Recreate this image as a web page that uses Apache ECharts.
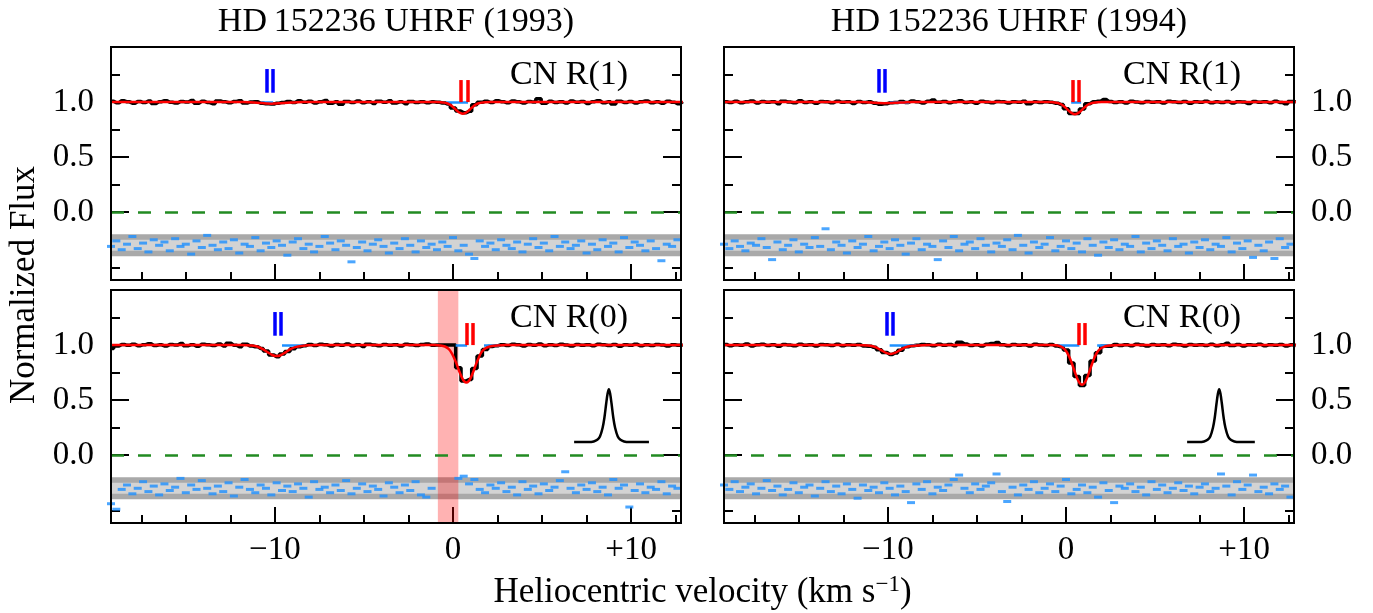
<!DOCTYPE html>
<html>
<head>
<meta charset="utf-8">
<script src="https://cdn.jsdelivr.net/npm/echarts@6/dist/echarts.min.js"></script>
<style>
  html, body { margin: 0; padding: 0; background: #ffffff; }
  #chart { width: 1373px; height: 613px; }
</style>
</head>
<body>
<div id="chart"></div>
<script>
// ---------------------------------------------------------------------------
// Spectral data: HD 152236, UHRF, CN R(1) and R(0) lines, 1993 and 1994
// Velocity sampling of the extracted spectra (km/s, heliocentric)
// ---------------------------------------------------------------------------
const VEL_START = -19.2;
const VEL_STEP = 0.3;
const N_PIX = 108;

// Tick values
const xMajorTicks = [-10, 0, 10];
const xMinorTicks = [-17.5, -15, -12.5, -7.5, -5, -2.5, 2.5, 5, 7.5, 12.5];
const yMajorTicks = [0, 0.5, 1.0];
const yMinorTicks = [-0.5, -0.25, 0.25, 0.75, 1.25];

const panelTitles = ['HD\u2009152236 UHRF (1993)', 'HD\u2009152236 UHRF (1994)'];
const lineNames = ['CN R(1)', 'CN R(1)', 'CN R(0)', 'CN R(0)'];

// Normalized flux, 1993 CN R(1)
const flux1993R1 = [
  1.008, 0.994, 1.012, 1.002, 0.990, 1.006, 0.996, 1.010, 0.988, 1.004,
  1.012, 0.998, 0.992, 1.006, 1.000, 1.014, 0.990, 1.008, 0.996, 0.986,
  1.010, 1.002, 0.994, 1.006, 1.012, 0.992, 1.000, 1.004, 0.990, 0.984,
  0.982, 0.990, 0.997, 1.006, 0.996, 1.012, 0.998, 1.008, 0.992, 1.004,
  1.014, 0.990, 1.002, 0.980, 1.006, 0.996, 1.010, 0.994, 1.004, 0.988,
  1.008, 0.998, 1.012, 0.992, 1.002, 0.986, 1.006, 0.996, 1.004, 0.994,
  1.002, 0.998, 0.992, 0.982, 0.947, 0.918, 0.903, 0.916, 0.976, 0.998,
  1.008, 0.996, 1.012, 1.004, 0.994, 1.010, 1.002, 0.992, 1.006, 1.000,
  1.030, 0.990, 1.008, 0.996, 1.004, 0.992, 1.010, 0.998, 1.006, 0.988,
  1.004, 1.012, 0.994, 1.002, 0.982, 1.008, 0.996, 1.006, 0.992, 1.004,
  1.010, 0.994, 1.002, 0.990, 1.008, 0.998, 0.986, 1.004
];
// Normalized flux, 1994 CN R(1)
const flux1994R1 = [
  1.004, 0.996, 1.008, 0.994, 1.002, 1.010, 0.992, 1.006, 0.998, 1.004,
  0.986, 1.008, 1.000, 0.994, 1.012, 0.996, 1.004, 0.990, 1.006, 1.002,
  0.994, 1.008, 0.998, 1.004, 0.988, 1.006, 0.996, 1.002, 0.990, 0.980,
  0.984, 0.993, 0.996, 1.006, 0.996, 1.010, 1.002, 0.992, 1.008, 1.020,
  0.998, 1.006, 0.994, 1.004, 1.012, 0.996, 1.002, 0.990, 1.008, 1.000,
  0.994, 1.006, 1.002, 0.992, 1.004, 0.998, 1.008, 0.986, 1.002, 0.996,
  1.004, 0.998, 0.990, 0.978, 0.940, 0.896, 0.897, 0.938, 0.985, 1.002,
  1.008, 1.024, 1.006, 0.996, 1.004, 0.992, 1.008, 1.000, 0.994, 1.006,
  0.998, 1.004, 0.992, 1.008, 1.002, 0.996, 1.006, 0.990, 1.004, 0.998,
  1.008, 0.994, 1.002, 0.996, 1.006, 0.992, 1.004, 1.000, 0.988, 1.006,
  0.998, 1.004, 0.994, 1.008, 0.996, 0.984, 1.006, 1.002
];
// Normalized flux, 1993 CN R(0) (pixels near 0 km/s masked to unity)
const flux1993R0 = [
  0.970, 0.992, 1.006, 0.998, 1.008, 0.994, 1.004, 1.012, 0.996, 1.002,
  0.992, 1.006, 1.000, 1.014, 0.994, 1.004, 0.990, 1.008, 1.002, 0.996,
  1.010, 0.992, 1.016, 0.998, 0.986, 1.008, 0.992, 0.985, 0.970, 0.947,
  0.910, 0.894, 0.918, 0.941, 0.966, 0.986, 0.994, 1.006, 0.996, 1.008,
  1.002, 0.992, 1.006, 0.998, 1.010, 0.994, 1.004, 0.988, 1.008, 1.000,
  0.994, 1.006, 0.998, 1.004, 0.992, 1.008, 1.002, 0.996, 1.006, 1.010,
  0.998, 1.000, 1.000, 1.000, 1.000, 0.795, 0.675, 0.687, 0.787, 0.901,
  0.960, 0.988, 0.995, 1.004, 0.996, 1.008, 1.002, 0.992, 1.006, 0.998,
  1.010, 0.994, 1.004, 0.996, 1.008, 1.000, 0.992, 1.006, 0.998, 1.004,
  0.994, 1.008, 1.002, 0.996, 1.006, 0.990, 1.004, 0.998, 1.008, 0.994,
  1.004, 0.996, 1.006, 1.000, 0.992, 1.004, 0.998, 1.002
];
// Normalized flux, 1994 CN R(0)
const flux1994R0 = [
  1.006, 0.994, 1.004, 0.998, 1.010, 0.992, 1.002, 1.008, 0.996, 1.004,
  0.990, 1.006, 1.000, 0.994, 1.008, 0.998, 1.004, 0.992, 1.006, 1.002,
  0.996, 1.008, 0.994, 1.004, 0.998, 1.006, 0.992, 0.990, 0.980, 0.958,
  0.933, 0.915, 0.928, 0.953, 0.984, 0.994, 0.999, 1.006, 1.002, 0.994,
  1.008, 0.998, 1.006, 0.994, 1.026, 1.010, 0.996, 1.004, 0.992, 1.008,
  1.014, 1.024, 1.002, 0.994, 1.006, 0.998, 1.004, 0.992, 1.008, 1.000,
  0.996, 1.006, 0.992, 0.984, 0.955, 0.838, 0.715, 0.634, 0.723, 0.856,
  0.931, 0.990, 0.989, 1.006, 0.996, 1.004, 0.994, 1.008, 1.000, 0.992,
  1.006, 0.998, 1.004, 0.994, 1.008, 1.002, 0.992, 1.006, 0.998, 1.004,
  0.996, 1.008, 0.994, 1.002, 1.016, 0.996, 1.006, 0.992, 1.004, 0.998,
  1.008, 0.994, 1.004, 0.998, 1.006, 0.992, 1.002, 0.996
];

// Fit residuals (scaled, offset to -0.3); null = masked pixel
const resid1993R1 = [
  -0.31, -0.26, -0.34, -0.29, -0.22, -0.33, -0.28, -0.36, -0.25, -0.30,
  -0.27, -0.35, -0.24, -0.31, -0.29, -0.38, -0.26, -0.32, -0.21, -0.30,
  -0.34, -0.27, -0.33, -0.25, -0.37, -0.29, -0.31, -0.23, -0.35, -0.28,
  -0.32, -0.26, -0.30, -0.39, -0.27, -0.24, -0.33, -0.29, -0.36, -0.31,
  -0.22, -0.28, -0.34, -0.26, -0.30, -0.45, -0.32, -0.27, -0.35, -0.29,
  -0.25, -0.31, -0.37, -0.28, -0.33, -0.24, -0.30, -0.36, -0.26, -0.32,
  -0.29, -0.34, -0.27, -0.31, -0.23, -0.35, -0.30, -0.38, -0.42, -0.26,
  -0.31, -0.28, -0.34, -0.25, -0.30, -0.33, -0.27, -0.36, -0.29, -0.24,
  -0.32, -0.28, -0.35, -0.22, -0.31, -0.27, -0.33, -0.30, -0.26, -0.37,
  -0.29, -0.34, -0.25, -0.31, -0.28, -0.36, -0.23, -0.32, -0.27, -0.30,
  -0.35, -0.26, -0.33, -0.44, -0.29, -0.31, -0.25, -0.34
];
const resid1994R1 = [
  -0.29, -0.33, -0.26, -0.31, -0.35, -0.28, -0.30, -0.24, -0.32, -0.43,
  -0.27, -0.34, -0.30, -0.25, -0.36, -0.29, -0.32, -0.23, -0.31, -0.15,
  -0.34, -0.27, -0.30, -0.37, -0.26, -0.32, -0.29, -0.22, -0.35, -0.31,
  -0.27, -0.33, -0.25, -0.30, -0.38, -0.28, -0.24, -0.34, -0.29, -0.31,
  -0.43, -0.26, -0.32, -0.22, -0.35, -0.29, -0.27, -0.33, -0.24, -0.30,
  -0.36, -0.28, -0.31, -0.25, -0.34, -0.21, -0.30, -0.37, -0.27, -0.32,
  -0.29, -0.23, -0.35, -0.31, -0.26, -0.33, -0.28, -0.36, -0.24, -0.30,
  -0.39, -0.27, -0.32, -0.25, -0.34, -0.29, -0.31, -0.22, -0.36, -0.28,
  -0.33, -0.26, -0.30, -0.35, -0.24, -0.31, -0.29, -0.37, -0.27, -0.32,
  -0.25, -0.34, -0.29, -0.31, -0.23, -0.36, -0.28, -0.33, -0.26, -0.41,
  -0.30, -0.35, -0.27, -0.42, -0.24, -0.32, -0.29, -0.26
];
const resid1993R0 = [
  -0.44, -0.49, -0.31, -0.27, -0.35, -0.30, -0.24, -0.33, -0.28, -0.36,
  -0.26, -0.32, -0.29, -0.21, -0.34, -0.27, -0.31, -0.23, -0.30, -0.35,
  -0.28, -0.33, -0.25, -0.37, -0.29, -0.22, -0.31, -0.34, -0.27, -0.30,
  -0.36, -0.25, -0.32, -0.28, -0.33, -0.26, -0.30, -0.38, -0.24, -0.31,
  -0.29, -0.34, -0.27, -0.32, -0.23, -0.35, -0.30, -0.26, -0.33, -0.28,
  -0.31, -0.37, -0.25, -0.29, -0.34, -0.27, -0.32, -0.24, -0.36, -0.38,
  -0.30, null, null, null, null, -0.21, -0.19, -0.26, -0.22, -0.31,
  -0.34, -0.27, -0.30, -0.25, -0.33, -0.29, -0.36, -0.24, -0.31, -0.28,
  -0.35, -0.26, -0.32, -0.29, -0.23, -0.15, -0.30, -0.34, -0.27, -0.31,
  -0.25, -0.33, -0.29, -0.36, -0.22, -0.30, -0.27, -0.47, -0.32, -0.26,
  -0.34, -0.29, -0.31, -0.24, -0.35, -0.28, -0.30, -0.27
];
const resid1994R0 = [
  -0.27, -0.31, -0.24, -0.33, -0.29, -0.26, -0.35, -0.30, -0.23, -0.32,
  -0.28, -0.36, -0.31, -0.25, -0.34, -0.29, -0.27, -0.37, -0.30, -0.24,
  -0.33, -0.28, -0.35, -0.26, -0.31, -0.39, -0.27, -0.32, -0.29, -0.34,
  -0.25, -0.30, -0.36, -0.28, -0.33, -0.43, -0.26, -0.31, -0.24, -0.35,
  -0.29, -0.32, -0.27, -0.22, -0.18, -0.30, -0.34, -0.26, -0.31, -0.28,
  -0.25, -0.17, -0.33, -0.42, -0.29, -0.36, -0.27, -0.31, -0.24, -0.34,
  -0.30, -0.26, -0.33, -0.28, -0.22, -0.35, -0.31, -0.27, -0.34, -0.29,
  -0.38, -0.25, -0.32, -0.43, -0.28, -0.30, -0.26, -0.33, -0.29, -0.36,
  -0.24, -0.31, -0.27, -0.34, -0.30, -0.25, -0.32, -0.28, -0.35, -0.29,
  -0.26, -0.33, -0.30, -0.17, -0.28, -0.36, -0.24, -0.31, -0.27, -0.18,
  -0.33, -0.29, -0.35, -0.26, -0.31, -0.28, -0.38, -0.36
];

// Model fits [velocity, flux]
const fit1993R1 = [
  [-19.2, 1.0], [-11.8, 1.0], [-11.4, 0.998], [-11.0, 0.995], [-10.7, 0.991], [-10.4, 0.987],
  [-10.2, 0.986], [-10.0, 0.987], [-9.7, 0.990], [-9.3, 0.994], [-8.9, 0.997], [-8.4, 1.0],
  [-1.0, 1.0], [-0.7, 0.998], [-0.5, 0.995], [-0.35, 0.989], [-0.2, 0.979], [-0.05, 0.963],
  [0.1, 0.941], [0.25, 0.918], [0.4, 0.902], [0.55, 0.895], [0.7, 0.902], [0.85, 0.918],
  [1.0, 0.941], [1.15, 0.963], [1.3, 0.979], [1.45, 0.989], [1.6, 0.995], [1.8, 0.998],
  [2.1, 1.0], [12.9, 1.0]
];
const fit1994R1 = [
  [-19.2, 1.0], [-11.6, 1.0], [-11.2, 0.998], [-10.8, 0.994], [-10.5, 0.991], [-10.2, 0.990],
  [-9.9, 0.991], [-9.5, 0.994], [-9.1, 0.997], [-8.6, 1.0],
  [-1.0, 1.0], [-0.75, 0.998], [-0.55, 0.994], [-0.4, 0.988], [-0.25, 0.978], [-0.1, 0.960],
  [0.05, 0.938], [0.2, 0.915], [0.35, 0.898], [0.5, 0.890], [0.65, 0.898], [0.8, 0.915],
  [0.95, 0.938], [1.1, 0.960], [1.25, 0.978], [1.4, 0.988], [1.55, 0.994], [1.75, 0.998],
  [2.0, 1.0], [12.9, 1.0]
];
const fit1993R0 = [
  [-19.2, 1.0], [-11.9, 1.0], [-11.6, 0.999], [-11.3, 0.996], [-11.0, 0.987], [-10.7, 0.965],
  [-10.4, 0.934], [-10.15, 0.910], [-9.9, 0.900], [-9.65, 0.910], [-9.4, 0.934], [-9.1, 0.965],
  [-8.8, 0.984], [-8.5, 0.992], [-8.1, 0.998], [-7.6, 1.0],
  [-1.0, 1.0], [-0.7, 0.997], [-0.45, 0.987], [-0.25, 0.965], [-0.1, 0.934], [0.05, 0.888],
  [0.2, 0.829], [0.35, 0.763], [0.5, 0.705], [0.62, 0.673], [0.75, 0.660], [0.88, 0.673],
  [1.0, 0.705], [1.15, 0.763], [1.3, 0.829], [1.45, 0.888], [1.6, 0.936], [1.75, 0.962],
  [1.95, 0.980], [2.2, 0.991], [2.5, 0.997], [2.9, 1.0], [12.9, 1.0]
];
const fit1994R0 = [
  [-19.2, 1.0], [-11.8, 1.0], [-11.4, 0.999], [-11.0, 0.994], [-10.7, 0.981], [-10.4, 0.956],
  [-10.1, 0.929], [-9.85, 0.920], [-9.6, 0.929], [-9.3, 0.956], [-9.0, 0.981], [-8.7, 0.991],
  [-8.3, 0.997], [-7.8, 1.0],
  [-0.9, 1.0], [-0.55, 0.998], [-0.3, 0.988], [-0.1, 0.966], [0.05, 0.935], [0.2, 0.887],
  [0.35, 0.824], [0.5, 0.753], [0.65, 0.689], [0.77, 0.654], [0.9, 0.640], [1.03, 0.654],
  [1.15, 0.689], [1.3, 0.753], [1.45, 0.824], [1.6, 0.887], [1.75, 0.935], [1.9, 0.963],
  [2.1, 0.982], [2.35, 0.993], [2.75, 0.999], [3.15, 1.0], [12.9, 1.0]
];

// Instrumental line-spread function drawn in the R(0) panels [velocity, height]
const lsf1993 = [
  [6.8, 0.12], [7.6, 0.12], [7.9, 0.125], [8.1, 0.14], [8.25, 0.17], [8.4, 0.25], [8.5, 0.34],
  [8.6, 0.47], [8.68, 0.56], [8.75, 0.60], [8.82, 0.56], [8.9, 0.47], [9.0, 0.34], [9.1, 0.25],
  [9.25, 0.17], [9.4, 0.14], [9.6, 0.125], [9.9, 0.12], [11.0, 0.12]
];
const lsf1994 = [
  [6.8, 0.12], [7.45, 0.12], [7.75, 0.125], [7.95, 0.14], [8.1, 0.17], [8.25, 0.25], [8.35, 0.34],
  [8.45, 0.47], [8.53, 0.56], [8.6, 0.60], [8.67, 0.56], [8.75, 0.47], [8.85, 0.34], [8.95, 0.25],
  [9.1, 0.17], [9.25, 0.14], [9.45, 0.125], [9.75, 0.12], [10.6, 0.12]
];

// Component velocities (pairs of tick marks), blue and red clouds
const blueComp = [[-10.45, -10.1], [-10.5, -10.17], [-10.0, -9.65], [-10.05, -9.7]];
const redComp = [[0.41, 0.8], [0.38, 0.72], [0.79, 1.12], [0.72, 1.05]];
const blueCompSpan = [1.085, 1.30];
const redCompSpan = [1.0, 1.2];

// Continuum stretches shown at unity
const contSegs = [
  [[-10.8, -10.1], [-0.37, 0.84]],
  [[-9.9, -8.8], [0.29, 0.85]],
  [[-9.6, -8.3], [0.15, 0.79], [1.74, 2.62]],
  [[-9.9, -8.4], [-0.45, 0.75], [1.75, 2.4]]
];

// Masked velocity interval (1993 R(0))
const mask1993R0 = [-0.85, 0.3];

// Residual tolerance bands
const residOuter = [-0.4, -0.2];
const residInner = [-0.35, -0.25];

// ---------------------------------------------------------------------------
// Layout and styles
// ---------------------------------------------------------------------------
const X_MIN = -19.2, X_MAX = 12.8;
const Y_MIN = -0.615, Y_MAX = 1.5;
const COL_LEFT = [111, 724];
const ROW_TOP = [47, 290];
const PANEL_W = 570, PANEL_H = 233;
const SERIF = '"Liberation Serif", "Times New Roman", serif';
const TICK_FONT = 33;
const TITLE_FONT = 34;
const LABEL_FONT = 35;

const vel = [];
for (let i = 0; i < N_PIX; i++) vel.push(+(VEL_START + i * VEL_STEP).toFixed(2));

const toPairs = (ys) => ys.map((y, i) => [vel[i], y]).filter(p => p[1] !== null);

const panels = [
  { row: 0, col: 0, flux: flux1993R1, resid: resid1993R1, fit: fit1993R1, lsf: null, mask: null },
  { row: 0, col: 1, flux: flux1994R1, resid: resid1994R1, fit: fit1994R1, lsf: null, mask: null },
  { row: 1, col: 0, flux: flux1993R0, resid: resid1993R0, fit: fit1993R0, lsf: lsf1993, mask: mask1993R0 },
  { row: 1, col: 1, flux: flux1994R0, resid: resid1994R0, fit: fit1994R0, lsf: lsf1994, mask: null }
];

const fmtX = (v) => v === 0 ? '0' : (v > 0 ? '+' + v : '\u2212' + Math.abs(v));
const fmtY = (v) => (v < 0 ? '\u2212' : '') + Math.abs(v).toFixed(1);

const grids = [], xAxes = [], yAxes = [], series = [], graphics = [];

panels.forEach((p, g) => {
  const left = COL_LEFT[p.col], top = ROW_TOP[p.row];
  grids.push({ left: left, top: top, width: PANEL_W, height: PANEL_H, containLabel: false });

  const xBase = {
    gridIndex: g, type: 'value', min: X_MIN, max: X_MAX, position: 'bottom',
    axisLine: { show: false, onZero: false }, splitLine: { show: false }
  };
  xAxes.push(Object.assign({}, xBase, {
    axisLabel: { show: false },
    axisTick: { show: true, inside: true, length: 8, customValues: xMinorTicks, lineStyle: { color: '#000', width: 2 } }
  }));
  xAxes.push(Object.assign({}, xBase, {
    axisLabel: {
      show: p.row === 1, customValues: xMajorTicks, formatter: fmtX,
      fontFamily: SERIF, fontSize: TICK_FONT, color: '#000', margin: 11
    },
    axisTick: { show: true, inside: true, length: 16, customValues: xMajorTicks, lineStyle: { color: '#000', width: 2 } }
  }));

  ['left', 'right'].forEach((side) => {
    const yBase = {
      gridIndex: g, type: 'value', min: Y_MIN, max: Y_MAX, position: side,
      axisLine: { show: false, onZero: false }, splitLine: { show: false }
    };
    yAxes.push(Object.assign({}, yBase, {
      axisLabel: { show: false },
      axisTick: { show: true, inside: true, length: 9, customValues: yMinorTicks, lineStyle: { color: '#000', width: 2 } }
    }));
    const labelled = (side === 'left' && p.col === 0) || (side === 'right' && p.col === 1);
    yAxes.push(Object.assign({}, yBase, {
      axisLabel: {
        show: labelled, customValues: yMajorTicks, formatter: fmtY,
        fontFamily: SERIF, fontSize: TICK_FONT, color: '#000', margin: 17
      },
      axisTick: { show: true, inside: true, length: 18, customValues: yMajorTicks, lineStyle: { color: '#000', width: 2 } }
    }));
  });

  const xi = 2 * g + 1, yi = 4 * g + 1;
  const common = { xAxisIndex: xi, yAxisIndex: yi, animation: false, silent: true };

  // residual tolerance bands
  series.push(Object.assign({}, common, {
    type: 'line', data: [], z: 1,
    markArea: {
      silent: true,
      data: [
        [{ yAxis: residOuter[0], itemStyle: { color: '#a9a9a9' } }, { yAxis: residOuter[1] }],
        [{ yAxis: residInner[0], itemStyle: { color: '#d3d3d3' } }, { yAxis: residInner[1] }]
      ]
    }
  }));

  // zero level
  series.push(Object.assign({}, common, {
    type: 'line', data: [], z: 2,
    markLine: {
      silent: true, symbol: 'none', label: { show: false },
      lineStyle: { color: '#228b22', width: 2.5, type: [13, 14] },
      data: [{ yAxis: 0 }]
    }
  }));

  // masked interval
  if (p.mask) {
    series.push(Object.assign({}, common, {
      type: 'line', data: [], z: 2,
      markArea: {
        silent: true,
        itemStyle: { color: 'rgba(255,0,0,0.3)' },
        data: [[{ xAxis: p.mask[0] }, { xAxis: p.mask[1] }]]
      }
    }));
  }

  // residuals
  series.push(Object.assign({}, common, {
    type: 'scatter', z: 3, symbol: 'rect', symbolSize: [8, 3],
    itemStyle: { color: '#1e90ff' },
    data: toPairs(p.resid)
  }));

  // observed spectrum
  series.push(Object.assign({}, common, {
    type: 'line', z: 4, step: 'middle', showSymbol: false, symbol: 'none',
    lineStyle: { color: '#000', width: 3.5 },
    data: toPairs(p.flux)
  }));

  // model fit
  series.push(Object.assign({}, common, {
    type: 'line', z: 5, smooth: 0.3, showSymbol: false, symbol: 'none',
    lineStyle: { color: '#ff0000', width: 2.5 },
    data: p.fit
  }));

  // instrumental profile
  if (p.lsf) {
    series.push(Object.assign({}, common, {
      type: 'line', z: 5, smooth: 0.3, showSymbol: false, symbol: 'none',
      lineStyle: { color: '#000', width: 2.5 },
      data: p.lsf
    }));
  }

  // continuum stretches and component tick marks
  const segLines = contSegs[g].map(s => [
    { coord: [s[0], 1.0], lineStyle: { color: '#1e90ff', width: 2.5, type: 'solid' } },
    { coord: [s[1], 1.0] }
  ]);
  const bars = [];
  blueComp[g].forEach(v => bars.push([
    { coord: [v, blueCompSpan[0]], lineStyle: { color: '#0000ff', width: 3.5, type: 'solid' } },
    { coord: [v, blueCompSpan[1]] }
  ]));
  redComp[g].forEach(v => bars.push([
    { coord: [v, redCompSpan[0]], lineStyle: { color: '#ff0000', width: 3.5, type: 'solid' } },
    { coord: [v, redCompSpan[1]] }
  ]));
  series.push(Object.assign({}, common, {
    type: 'line', data: [], z: 6,
    markLine: {
      silent: true, symbol: 'none', label: { show: false },
      data: segLines.concat(bars)
    }
  }));

  // panel frame
  graphics.push({
    type: 'rect', z: 100, silent: true,
    shape: { x: left, y: top, width: PANEL_W, height: PANEL_H },
    style: { fill: 'none', stroke: '#000', lineWidth: 2 }
  });

  // line identification
  graphics.push({
    type: 'text', z: 100, silent: true,
    x: left + 458, y: top + 28,
    style: {
      text: lineNames[g], fill: '#000', fontFamily: SERIF, fontSize: TITLE_FONT,
      textAlign: 'center', textVerticalAlign: 'middle', verticalAlign: 'middle'
    }
  });
});

// column titles
panelTitles.forEach((t, c) => {
  graphics.push({
    type: 'text', z: 100, silent: true,
    x: COL_LEFT[c] + PANEL_W / 2, y: 22,
    style: {
      text: t, fill: '#000', fontFamily: SERIF, fontSize: TITLE_FONT,
      textAlign: 'center', textVerticalAlign: 'middle', verticalAlign: 'middle'
    }
  });
});

// axis titles
graphics.push({
  type: 'text', z: 100, silent: true,
  x: (COL_LEFT[0] + COL_LEFT[1] + PANEL_W) / 2, y: 593,
  style: {
    text: '{a|Heliocentric velocity (km s}{b|\u22121}{a|)}',
    fill: '#000', textAlign: 'center', textVerticalAlign: 'middle', verticalAlign: 'middle',
    rich: {
      a: { fontFamily: SERIF, fontSize: LABEL_FONT, fill: '#000', lineHeight: 40 },
      b: { fontFamily: SERIF, fontSize: 23, fill: '#000', verticalAlign: 'top', lineHeight: 40, padding: [0, 0, 14, 0] }
    }
  }
});
graphics.push({
  type: 'text', z: 100, silent: true,
  x: 25, y: (ROW_TOP[0] + ROW_TOP[1] + PANEL_H) / 2,
  rotation: Math.PI / 2,
  style: {
    text: 'Normalized Flux', fill: '#000', fontFamily: SERIF, fontSize: LABEL_FONT,
    textAlign: 'center', textVerticalAlign: 'middle', verticalAlign: 'middle'
  }
});

const chart = echarts.init(document.getElementById('chart'), null, { renderer: 'canvas' });
chart.setOption({
  animation: false,
  backgroundColor: '#ffffff',
  grid: grids,
  xAxis: xAxes,
  yAxis: yAxes,
  series: series,
  graphic: graphics
});
</script>
</body>
</html>
